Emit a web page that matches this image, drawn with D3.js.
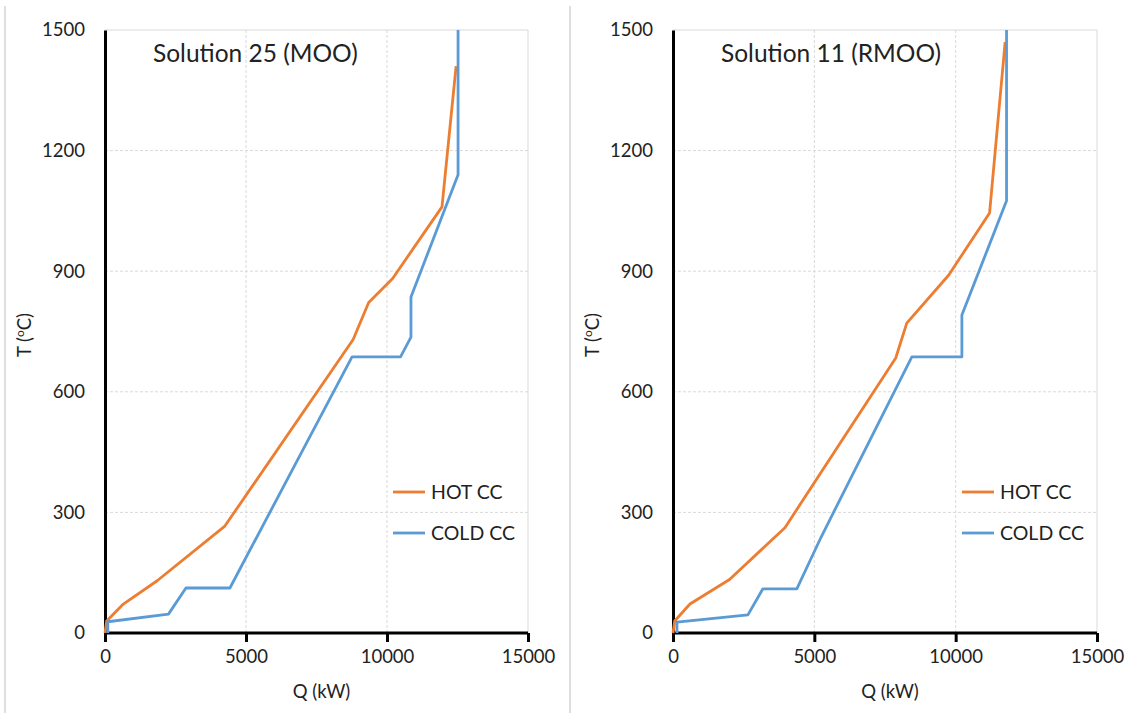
<!DOCTYPE html>
<html>
<head>
<meta charset="utf-8">
<script src="https://cdn.jsdelivr.net/npm/d3@7"></script>
<style>
  body { margin: 0; background: #fff; }
  svg text { font-family: Lato, "Liberation Sans", sans-serif; fill: #222; }
</style>
</head>
<body>
<div class="canvas"></div>
<script>
// axis ticks
const qTicks = [0, 5000, 10000, 15000];
const tTicks = [0, 300, 600, 900, 1200, 1500];
const seriesNames = ['HOT CC', 'COLD CC'];

// Solution 25 (MOO) composite curves, [Q kW, T C]
const mooHot = [[0, 0], [60, 30], [650, 72], [1850, 130], [4250, 266], [8800, 730],
  [9350, 822], [10200, 882], [11950, 1060], [12450, 1410]];
const mooCold = [[100, 0], [100, 28], [2250, 47], [2870, 112], [4430, 112], [8760, 687],
  [10480, 687], [10850, 736], [10850, 836], [12520, 1140], [12520, 1500]];

// Solution 11 (RMOO) composite curves
const rmooHot = [[0, 0], [60, 30], [600, 72], [2000, 133], [3960, 262], [7880, 684],
  [8270, 771], [9750, 890], [11200, 1045], [11750, 1470]];
const rmooCold = [[140, 0], [140, 27], [2650, 45], [3180, 110], [4380, 110], [5250, 240],
  [8450, 687], [10220, 687], [10220, 791], [11800, 1075], [11800, 1500]];

const colors = ['#ED7D31', '#5B9BD5'];

const svg = d3.select('.canvas')
  .append('svg')
  .attr('width', 1135)
  .attr('height', 713);

// panel frames (two pasted excel charts)
svg.append('line').attr('x1', 5).attr('x2', 5).attr('y1', 6).attr('y2', 713)
  .attr('stroke', '#d4d4d4').attr('stroke-width', 1.5);
svg.append('line').attr('x1', 570).attr('x2', 570).attr('y1', 6).attr('y2', 713)
  .attr('stroke', '#d4d4d4').attr('stroke-width', 1.5);

const drawPanel = (left, right, title, hot, cold) => {
  const top = 30, bottom = 633;

  const x = d3.scaleLinear().domain([0, 15000]).range([left, right]);
  const y = d3.scaleLinear().domain([0, 1500]).range([bottom, top]);

  const g = svg.append('g');

  // grid
  g.selectAll('.vgrid').data(qTicks.slice(1, -1)).enter().append('line')
    .attr('x1', d => x(d)).attr('x2', d => x(d)).attr('y1', top).attr('y2', bottom)
    .attr('stroke', '#d9d9d9').attr('stroke-dasharray', '3,2');
  g.selectAll('.hgrid').data(tTicks.slice(1, -1)).enter().append('line')
    .attr('x1', left).attr('x2', right).attr('y1', d => y(d)).attr('y2', d => y(d))
    .attr('stroke', '#d9d9d9').attr('stroke-dasharray', '3,2');
  // top and right border
  g.append('path')
    .attr('d', `M${left},${y(1500)}H${x(15000)}V${bottom}`)
    .attr('fill', 'none').attr('stroke', '#d9d9d9');

  // axes
  const xAxis = d3.axisBottom(x).tickValues(qTicks).tickSize(9).tickPadding(8)
    .tickFormat(d3.format('d'));
  const xg = g.append('g').attr('transform', `translate(0, ${bottom})`).call(xAxis);
  xg.select('.domain').attr('stroke', '#000').attr('stroke-width', 3)
    .attr('d', `M${left},0H${right}`);
  xg.selectAll('.tick line').attr('stroke', '#000').attr('stroke-width', 3);
  xg.selectAll('.tick text').attr('font-size', 18.5).attr('fill', '#222');

  const yAxis = d3.axisLeft(y).tickValues(tTicks).tickSize(0).tickPadding(20)
    .tickFormat(d3.format('d'));
  const yg = g.append('g').attr('transform', `translate(${left}, 0)`).call(yAxis);
  yg.select('.domain').attr('stroke', '#000').attr('stroke-width', 3);
  yg.selectAll('.tick text').attr('font-size', 18.5).attr('fill', '#222');

  // curves
  const line = d3.line().x(d => x(d[0])).y(d => y(d[1]));
  [hot, cold].forEach((data, i) => {
    g.append('path').datum(data)
      .attr('d', line)
      .attr('fill', 'none')
      .attr('stroke', colors[i])
      .attr('stroke-width', 2.8)
      .attr('stroke-linejoin', 'round');
  });

  // title
  g.append('text').text(title)
    .attr('x', left + 48).attr('y', 62)
    .attr('font-size', 24.5);

  // axis titles
  g.append('text').text('Q (kW)')
    .attr('x', (left + right) / 2 + 5).attr('y', 698)
    .attr('text-anchor', 'middle').attr('font-size', 18.5);
  const yl = g.append('text')
    .attr('transform', `translate(${left - 74}, 335) rotate(-90)`)
    .attr('text-anchor', 'middle').attr('font-size', 18.5);
  yl.append('tspan').text('T (');
  yl.append('tspan').text('o').attr('font-size', 12).attr('dy', -7);
  yl.append('tspan').text('C)').attr('dy', 7);

  // legend
  seriesNames.forEach((name, i) => {
    const ly = 492 + i * 41;
    g.append('line')
      .attr('x1', right - 135).attr('x2', right - 103)
      .attr('y1', ly).attr('y2', ly)
      .attr('stroke', colors[i]).attr('stroke-width', 2.8);
    g.append('text').text(name)
      .attr('x', right - 97).attr('y', ly + 7)
      .attr('font-size', 19.5);
  });
};

drawPanel(105, 528, 'Solution 25 (MOO)', mooHot, mooCold);
drawPanel(673, 1097, 'Solution 11 (RMOO)', rmooHot, rmooCold);
</script>
</body>
</html>
